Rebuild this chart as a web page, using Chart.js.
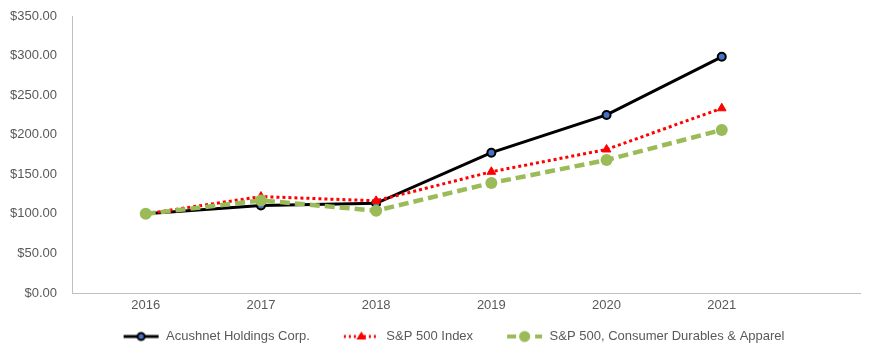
<!DOCTYPE html>
<html>
<head>
<meta charset="utf-8">
<script src="https://cdn.jsdelivr.net/npm/chart.js@4/dist/chart.umd.min.js"></script>
<style>
  html, body { margin: 0; padding: 0; background: #fff; }
  #wrap { width: 885px; height: 353px; position: relative; }
</style>
</head>
<body>
<div id="wrap"><canvas id="myChart"></canvas></div>
<script>
const years = [2016, 2017, 2018, 2019, 2020, 2021]
const acushnet = [100.00, 110.60, 113.40, 177.30, 225.00, 298.40]
const sp500 = [100.00, 121.83, 116.49, 153.17, 181.35, 233.41]
const consumerDurables = [100.00, 117.00, 104.00, 139.00, 168.00, 206.00]
const seriesNames = ['Acushnet Holdings Corp.', 'S&P 500 Index', 'S&P 500, Consumer Durables & Apparel']
const yTicks = [0, 50, 100, 150, 200, 250, 300, 350]

const textColor = '#595959'
const axisColor = '#BFBFBF'
const green = '#9BBB59'
const iconBox = 60

function toPoints(values) {
  return years.map((y, i) => ({ x: y, y: values[i] }))
}

// legend icon: line piece with the marker in the middle, drawn at the right end
// of a wider canvas so the empty left part works as the gap between items
function legendIcon(color, width, dash, marker) {
  const c = document.createElement('canvas')
  c.width = iconBox
  c.height = 14
  const g = c.getContext('2d')
  g.translate(iconBox - 37, 0)
  g.strokeStyle = color
  g.lineWidth = width
  g.setLineDash(dash)
  g.beginPath()
  g.moveTo(1, 7)
  g.lineTo(36, 7)
  g.stroke()
  g.setLineDash([])
  if (marker == 'circle') {
    g.beginPath()
    g.arc(18.5, 7, 3.5, 0, Math.PI * 2)
    g.fillStyle = '#4472C4'
    g.fill()
    g.lineWidth = 2
    g.strokeStyle = '#000'
    g.stroke()
  } else if (marker == 'triangle') {
    g.beginPath()
    g.moveTo(18.5, 2)
    g.lineTo(23.5, 10)
    g.lineTo(13.5, 10)
    g.closePath()
    g.fillStyle = color
    g.fill()
  } else {
    g.beginPath()
    g.arc(18.5, 7, 5.5, 0, Math.PI * 2)
    g.fillStyle = color
    g.fill()
  }
  return c
}

const icons = [
  legendIcon('#000000', 3, [], 'circle'),
  legendIcon('#FF0000', 3, [2, 3], 'triangle'),
  legendIcon(green, 4, [9, 5], 'green')
]

// Excel centres the legend a bit to the right of the canvas centre
const shiftLegend = {
  id: 'shiftLegend',
  afterLayout(chart) {
    chart.legend.left += 12
    chart.legend.right += 12
  }
}

const ctx = document.getElementById('myChart')

const chart = new Chart(ctx, {
  type: 'line',
  plugins: [shiftLegend],
  data: {
    datasets: [{
      label: seriesNames[0],
      data: toPoints(acushnet),
      borderColor: '#000000',
      borderWidth: 3,
      pointStyle: 'circle',
      pointRadius: 4,
      pointBorderWidth: 2,
      pointBorderColor: '#000000',
      pointBackgroundColor: '#4472C4',
      tension: 0,
      order: 3
    }, {
      label: seriesNames[1],
      data: toPoints(sp500),
      borderColor: '#FF0000',
      borderWidth: 3,
      borderDash: [3, 3],
      pointStyle: 'triangle',
      pointRadius: 5,
      pointBorderWidth: 1,
      pointBorderColor: '#FF0000',
      pointBackgroundColor: '#FF0000',
      tension: 0,
      order: 2
    }, {
      label: seriesNames[2],
      data: toPoints(consumerDurables),
      borderColor: green,
      borderWidth: 4.5,
      borderDash: [10, 5],
      pointStyle: 'circle',
      pointRadius: 6,
      pointBorderWidth: 0,
      pointBackgroundColor: green,
      tension: 0,
      order: 1
    }]
  },
  options: {
    responsive: true,
    maintainAspectRatio: false,
    animation: false,
    layout: { padding: { left: 0, right: 25, top: 16, bottom: 0 } },
    plugins: {
      tooltip: { enabled: false },
      legend: {
        position: 'bottom',
        labels: {
          usePointStyle: true,
          pointStyleWidth: iconBox,
          padding: 10,
          color: textColor,
          font: { family: 'Liberation Sans', size: 13 },
          generateLabels: function (chart) {
            return chart.data.datasets.map((ds, i) => ({
              text: ds.label,
              pointStyle: icons[i],
              fillStyle: 'transparent',
              strokeStyle: 'transparent',
              lineWidth: 0,
              fontColor: textColor,
              datasetIndex: i
            }))
          }
        }
      }
    },
    scales: {
      x: {
        type: 'linear',
        min: 2015.36,
        max: 2022.2,
        grid: { display: false, drawTicks: false },
        border: { display: true, color: axisColor, width: 1 },
        afterBuildTicks: function (scale) {
          scale.ticks = years.map(v => ({ value: v }))
        },
        afterFit: function (scale) { scale.height = 27 },
        ticks: {
          color: textColor,
          padding: 5,
          font: { family: 'Liberation Sans', size: 13 },
          maxRotation: 0,
          autoSkip: false,
          callback: v => String(v)
        }
      },
      y: {
        min: 0,
        max: 350,
        grid: { display: false, drawTicks: false },
        border: { display: true, color: axisColor, width: 1 },
        afterBuildTicks: function (scale) {
          scale.ticks = yTicks.map(v => ({ value: v }))
        },
        afterFit: function (scale) {
          scale.width = 72
          scale.paddingTop = 8
          scale.paddingBottom = 8
        },
        ticks: {
          color: textColor,
          padding: 15,
          font: { family: 'Liberation Sans', size: 13 },
          callback: v => '$' + Number(v).toFixed(2)
        }
      }
    }
  }
})
</script>
</body>
</html>
